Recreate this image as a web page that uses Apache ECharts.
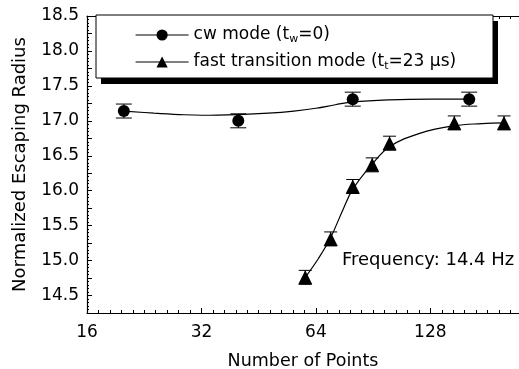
<!DOCTYPE html>
<html>
<head>
<meta charset="utf-8">
<script src="https://cdn.jsdelivr.net/npm/echarts@6/dist/echarts.min.js"></script>
<style>
  html, body { margin: 0; padding: 0; background: #fff; }
  #main { width: 519px; height: 369px; }
</style>
</head>
<body>
<div id="main"></div>
<script>
// measured points (x = number of points, y = normalized escaping radius)
var cwX = [20, 40, 80, 162];
var cwY = [17.14, 17.0, 17.31, 17.31];
var cwErr = [0.1, 0.1, 0.1, 0.1];

var fastX = [60, 70, 80, 90, 100, 148, 200];
var fastY = [14.76, 15.31, 16.06, 16.37, 16.68, 16.97, 16.97];
var fastErr = [0.1, 0.1, 0.1, 0.1, 0.1, 0.1, 0.1];

// fitted curves
var cwFitX = [20, 24, 28, 32, 40, 48, 56, 64, 72, 80, 100, 128, 162];
var cwFitY = [17.14, 17.11, 17.09, 17.08, 17.09, 17.11, 17.14, 17.18, 17.23, 17.27, 17.3, 17.31, 17.31];
var fastFitX = [60, 65, 70, 75, 80, 90, 100, 120, 148, 175, 200];
var fastFitY = [14.76, 15.03, 15.33, 15.7, 16.02, 16.38, 16.63, 16.82, 16.93, 16.96, 16.97];

var xTickLabels = [16, 32, 64, 128];
var cwName = 'cw mode';
var fastName = 'fast transition mode';

var FONT = 'DejaVu Sans';

function pairs(xs, ys) {
  return xs.map(function (x, i) { return [x, ys[i]]; });
}
function errData(xs, ys, es) {
  return xs.map(function (x, i) { return [x, ys[i], es[i]]; });
}
function errBars(capW) {
  return function (params, api) {
    var x = api.value(0), y = api.value(1), e = api.value(2);
    var hi = api.coord([x, y + e]);
    var lo = api.coord([x, y - e]);
    var st = { stroke: '#000', lineWidth: 1 };
    return {
      type: 'group',
      children: [
        { type: 'line', shape: { x1: hi[0], y1: hi[1], x2: lo[0], y2: lo[1] }, style: st },
        { type: 'line', shape: { x1: hi[0] - capW / 2, y1: hi[1], x2: hi[0] + capW / 2, y2: hi[1] }, style: st },
        { type: 'line', shape: { x1: lo[0] - capW / 2, y1: lo[1], x2: lo[0] + capW / 2, y2: lo[1] }, style: st }
      ]
    };
  };
}

var xMin = 16, xMax = 219;
var logMin = Math.log2(xMin), logMax = Math.log2(xMax);

// extra tick-only axes for the evenly spaced minor ticks of the log axis
function minorAxis(pos) {
  return {
    type: 'value', min: logMin, max: logMax, interval: 0.1, position: pos,
    axisLine: { show: false },
    axisTick: { show: true, inside: true, length: 3, lineStyle: { color: '#000' } },
    axisLabel: { show: false },
    splitLine: { show: false }
  };
}

var option = {
  animation: false,
  backgroundColor: '#fff',
  textStyle: { fontFamily: FONT },
  grid: { left: 87, top: 16, right: 0, bottom: 56, outerBoundsMode: 'none' },
  legend: {
    orient: 'vertical',
    left: 96,
    top: 15,
    z: 20,
    padding: [10, 40, 7, 39],
    itemGap: 7,
    itemWidth: 53,
    itemHeight: 14,
    lineStyle: { color: '#000', width: 1.2, opacity: 1 },
    data: [cwName, fastName],
    formatter: function (name) {
      if (name === cwName) return '{a|cw mode (t}{s|w}{a|=0)}';
      return '{a|fast transition mode (t}{s|t}{a|=23 \u03bcs)}';
    },
    textStyle: {
      color: '#000',
      fontFamily: FONT,
      fontSize: 17,
      rich: {
        a: { fontFamily: FONT, fontSize: 17, lineHeight: 20, color: '#000' },
        s: { fontFamily: FONT, fontSize: 11, lineHeight: 11, padding: [9, 0, 0, 0], color: '#000' }
      }
    }
  },
  xAxis: [{
    type: 'log',
    logBase: 2,
    min: xMin,
    max: xMax,
    name: 'Number of Points',
    nameLocation: 'middle',
    nameGap: 39,
    nameTextStyle: { fontFamily: FONT, fontSize: 17.5, color: '#000' },
    axisLine: { lineStyle: { color: '#000', width: 1.2 } },
    axisTick: { inside: true, length: 5, lineStyle: { color: '#000' } },
    splitLine: { show: false },
    axisLabel: {
      color: '#000',
      fontFamily: FONT,
      fontSize: 17,
      margin: 11,
      showMaxLabel: false,
      formatter: function (v) {
        var r = Math.round(v);
        return xTickLabels.indexOf(r) >= 0 ? String(r) : '';
      }
    }
  }, {
    type: 'log',
    logBase: 2,
    min: xMin,
    max: xMax,
    position: 'top',
    axisLine: { lineStyle: { color: '#000', width: 1.2 } },
    axisTick: { inside: true, length: 5, lineStyle: { color: '#000' } },
    splitLine: { show: false },
    axisLabel: { show: false }
  }, minorAxis('bottom'), minorAxis('top')],
  yAxis: {
    type: 'value',
    min: 14.25,
    max: 18.5,
    interval: 0.25,
    name: 'Normalized Escaping Radius',
    nameLocation: 'middle',
    nameGap: 58,
    nameTextStyle: { fontFamily: FONT, fontSize: 18, color: '#000' },
    axisLine: { show: true, lineStyle: { color: '#000', width: 1.2 } },
    axisTick: { show: true, inside: true, length: 5, lineStyle: { color: '#000' } },
    minorTick: { show: true, splitNumber: 5, length: 2, lineStyle: { color: '#000' } },
    splitLine: { show: false },
    axisLabel: {
      color: '#000',
      fontFamily: FONT,
      fontSize: 17,
      margin: 8,
      formatter: function (v) {
        return Math.abs(v * 2 - Math.round(v * 2)) < 1e-6 ? v.toFixed(1) : '';
      }
    }
  },
  graphic: [
    // legend frame with its solid drop shadow
    { type: 'rect', z: 10, shape: { x: 101, y: 21, width: 397, height: 63 }, style: { fill: '#000' } },
    { type: 'rect', z: 11, shape: { x: 96, y: 15, width: 397, height: 63 }, style: { fill: '#fff', stroke: '#000', lineWidth: 1 } },
    {
      type: 'text',
      left: 342,
      top: 251,
      style: { text: 'Frequency: 14.4 Hz', font: '18px "DejaVu Sans"', fill: '#000' }
    }
  ],
  series: [
    {
      name: cwName, type: 'line', smooth: 0.4, symbol: 'circle', showSymbol: false,
      data: pairs(cwFitX, cwFitY),
      lineStyle: { color: '#000', width: 1.2 }, itemStyle: { color: '#000' }
    },
    {
      name: fastName, type: 'line', smooth: 0.4, symbol: 'triangle', showSymbol: false,
      data: pairs(fastFitX, fastFitY),
      lineStyle: { color: '#000', width: 1.2 }, itemStyle: { color: '#000' }
    },
    {
      type: 'custom', renderItem: errBars(16), data: errData(cwX, cwY, cwErr),
      encode: { x: 0, y: 1 }, silent: true
    },
    {
      type: 'custom', renderItem: errBars(13), data: errData(fastX, fastY, fastErr),
      encode: { x: 0, y: 1 }, silent: true
    },
    {
      name: cwName, type: 'scatter', symbol: 'circle', symbolSize: 12,
      data: pairs(cwX, cwY), itemStyle: { color: '#000', opacity: 1 }
    },
    {
      name: fastName, type: 'scatter', symbol: 'triangle', symbolSize: 14,
      data: pairs(fastX, fastY), itemStyle: { color: '#000', opacity: 1 }
    }
  ]
};

var myChart = echarts.init(document.getElementById('main'));
myChart.setOption(option);
</script>
</body>
</html>
